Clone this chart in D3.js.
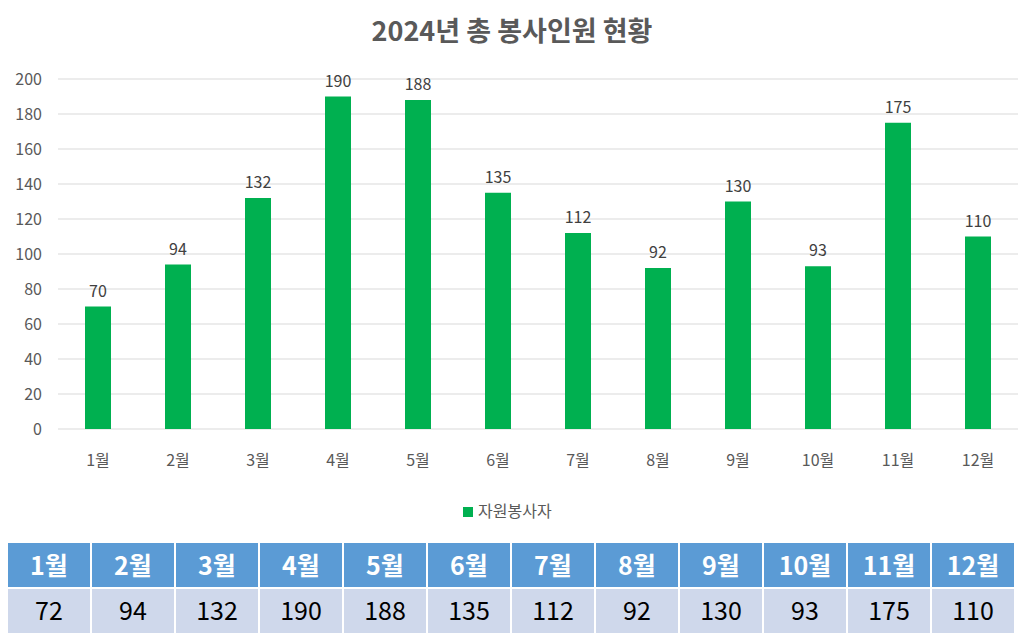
<!DOCTYPE html>
<html><head><meta charset="utf-8">
<script src="https://cdn.jsdelivr.net/npm/d3@7"></script>
<style>body{margin:0;background:#fff;font-family:"Noto Sans CJK KR","Noto Sans",sans-serif}</style>
</head><body><div id="wrapper"></div>
<script>
const months = ["1월","2월","3월","4월","5월","6월","7월","8월","9월","10월","11월","12월"];
const volunteers = [70,94,132,190,188,135,112,92,130,93,175,110];
const tableValues = [72,94,132,190,188,135,112,92,130,93,175,110];
const yTicks = [0,20,40,60,80,100,120,140,160,180,200];

const svg = d3.select("#wrapper").append("svg").attr("width",1024).attr("height",639);
const font = "'Noto Sans CJK KR', sans-serif";

svg.append("text").attr("x",512).attr("y",41).attr("text-anchor","middle")
  .style("font-family",font).style("font-size","27px").style("font-weight","bold")
  .attr("fill","#595959").text("2024년 총 봉사인원 현황");

const x = d3.scaleBand().domain(months).range([58,1018]).paddingInner(0.675).paddingOuter(0.3375);
const y = d3.scaleLinear().domain([0,200]).range([429,79]);

svg.append("g").selectAll("line").data(yTicks).enter().append("line")
  .attr("x1",58).attr("x2",1018).attr("y1",d=>y(d)).attr("y2",d=>y(d))
  .attr("stroke","#d9d9d9").attr("stroke-width",1);

svg.append("g").selectAll("text").data(yTicks).enter().append("text")
  .attr("x",42).attr("y",d=>y(d)+6).attr("text-anchor","end")
  .style("font-family",font).style("font-size","16px").attr("fill","#595959").text(d=>d);

svg.append("g").selectAll("rect").data(volunteers).enter().append("rect")
  .attr("x",(d,i)=>x(months[i])).attr("width",x.bandwidth())
  .attr("y",d=>y(d)).attr("height",d=>y(0)-y(d)).attr("fill","#00b050");

svg.append("g").selectAll("text").data(volunteers).enter().append("text")
  .attr("x",(d,i)=>x(months[i])+x.bandwidth()/2).attr("y",d=>y(d)-10).attr("text-anchor","middle")
  .style("font-family",font).style("font-size","16px").attr("fill","#404040").text(d=>d);

svg.append("g").selectAll("text").data(months).enter().append("text")
  .attr("x",d=>x(d)+x.bandwidth()/2).attr("y",466).attr("text-anchor","middle")
  .style("font-family",font).style("font-size","16px").attr("fill","#595959").text(d=>d);

svg.append("rect").attr("x",463).attr("y",507).attr("width",10).attr("height",10).attr("fill","#00b050");
svg.append("text").attr("x",478).attr("y",517).style("font-family",font).style("font-size","16px")
  .attr("fill","#595959").text("자원봉사자");

// table
const tx = d3.scaleBand().domain(months).range([8,1016]);
const head = svg.append("g");
head.selectAll("rect").data(months).enter().append("rect")
  .attr("x",d=>tx(d)).attr("y",543).attr("width",tx.bandwidth()-2).attr("height",44).attr("fill","#5b9bd5");
head.selectAll("text").data(months).enter().append("text")
  .attr("x",d=>tx(d)+tx.bandwidth()/2-1).attr("y",575).attr("text-anchor","middle")
  .style("font-family",font).style("font-size","25px").style("font-weight","bold").attr("fill","#fff").text(d=>d);
const body = svg.append("g");
body.selectAll("rect").data(tableValues).enter().append("rect")
  .attr("x",(d,i)=>tx(months[i])).attr("y",589).attr("width",tx.bandwidth()-2).attr("height",44).attr("fill","#cfd8eb");
body.selectAll("text").data(tableValues).enter().append("text")
  .attr("x",(d,i)=>tx(months[i])+tx.bandwidth()/2-1).attr("y",620).attr("text-anchor","middle")
  .style("font-family",font).style("font-size","25px").attr("fill","#000").text(d=>d);
</script></body></html>
